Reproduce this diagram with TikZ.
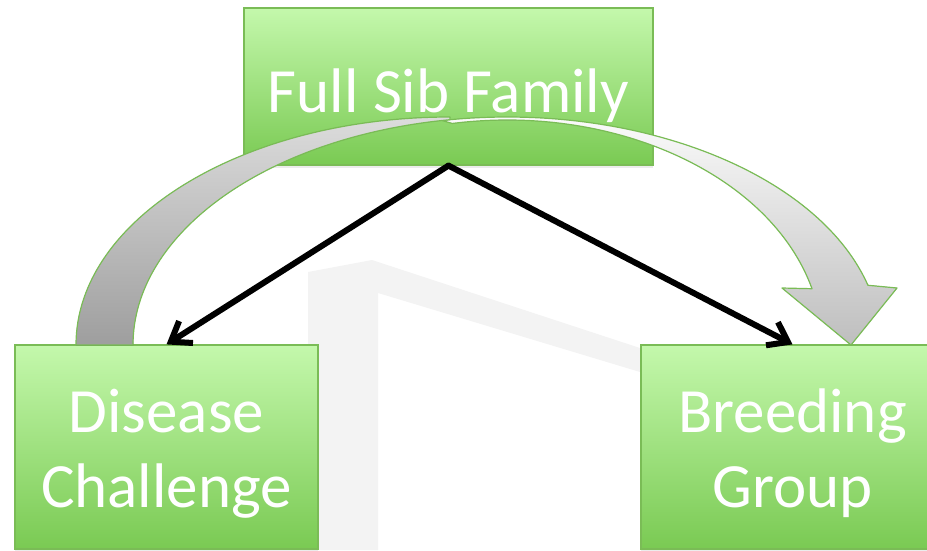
\documentclass[tikz,border=0pt]{standalone}
\usepackage{fontspec}
\setmainfont{Carlito}
\usetikzlibrary{arrows.meta,shadows}
\definecolor{boxtop}{RGB}{196,248,172}
\definecolor{boxbot}{RGB}{122,202,83}
\definecolor{boxline}{RGB}{122,188,86}
\definecolor{wmark}{RGB}{243,243,243}
\definecolor{backtop}{RGB}{220,220,220}
\definecolor{backbot}{RGB}{158,158,158}
\definecolor{fronttop}{RGB}{255,255,255}
\definecolor{frontbot}{RGB}{190,190,190}
\begin{document}
\begin{tikzpicture}[x=1pt,y=1pt,
  box/.style={draw=boxline, line width=1.2pt, top color=boxtop, bottom color=boxbot,
    rectangle, inner sep=0pt,
    drop shadow={shadow xshift=0pt, shadow yshift=-3pt, opacity=0.15}},
  lbl/.style={text=white, font=\fontsize{63}{75}\selectfont, align=center, anchor=base, inner sep=0pt},
  link/.style={line width=6pt, line cap=round, -{Straight Barb[length=18pt,width=26pt]}},
  band/.style={draw=boxline, line width=1.2pt, line join=round}]
\useasboundingbox (0,0) rectangle (927,-550);
\clip (0,0) rectangle (927,-550);
% faint background mark
\fill[wmark] (308,-550) -- (308,-272) -- (372,-260) -- (640,-348) -- (640,-372)
  -- (378,-293) -- (378,-550) -- cycle;
% boxes
\node[box, minimum width=409pt, minimum height=157pt] (fsf) at (448.5,-86.5) {};
\node[box, minimum width=303pt, minimum height=204pt] (dc) at (166.5,-447) {};
\node[box, minimum width=303pt, minimum height=204pt] (bg) at (792.5,-447) {};
\node[lbl] (fsft) at (448.5,-112) {Full Sib Family};
\node[lbl] (dct) at (166.5,-507) {Disease\\Challenge};
\node[lbl] (bgt) at (792.5,-507) {Breeding\\Group};
% curved block arrow: front band with head
\filldraw[band, top color=fronttop, bottom color=frontbot]
  (442.1,-120.5) arc[start angle=100, end angle=15.2, x radius=374pt, y radius=228pt]
  -- (897,-288) -- (851,-345) -- (782,-288) -- (812,-288.7)
  arc[start angle=14.5, end angle=100, x radius=315pt, y radius=225pt] -- cycle;
% back band
\filldraw[band, top color=backtop, bottom color=backbot]
  (76,-345) arc[start angle=180, end angle=90, x radius=374pt, y radius=228pt]
  -- (449.8,-119.7) arc[start angle=98.8, end angle=180, x radius=374pt, y radius=228pt]
  -- cycle;
% connectors
\draw[link] (fsf.south) -- (dc.north);
\draw[link] (fsf.south) -- (bg.north);
\end{tikzpicture}
\end{document}
